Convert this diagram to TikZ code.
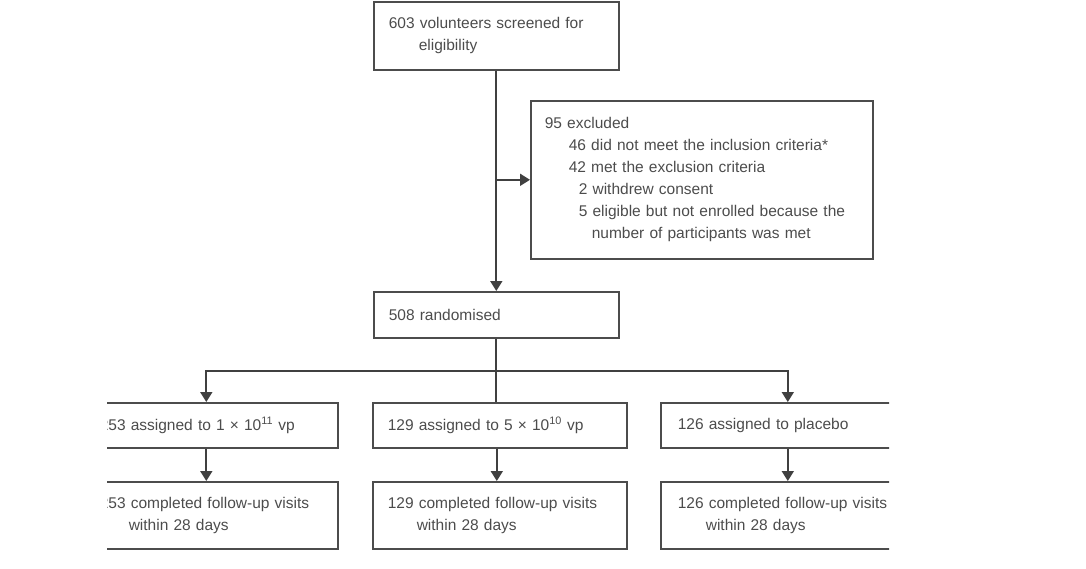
\documentclass[tikz,border=0pt]{standalone}
\usepackage{fontspec}
\setmainfont{Liberation Sans}
\usetikzlibrary{arrows.meta, positioning, calc}

\begin{document}
\begin{tikzpicture}[
    x=1pt, y=-1pt,
    box/.style={rectangle, draw=black!70, line width=1.6pt, anchor=north west,
        align=left, inner xsep=15pt, inner ysep=0pt, text=black!70,
        font=\fontsize{15.5}{22}\selectfont},
    arr/.style={draw=black!75, line width=1.8pt, -{Triangle[length=10pt, width=12pt]}},
    line/.style={draw=black!75, line width=1.8pt}
]
\useasboundingbox (0,0) rectangle (1086,568);
\clip (107,-5) rectangle (889,568);

% screening
\node[box, text width=215pt, minimum height=68pt] at (373,1) (screen)
    {603 volunteers screened for\\\hspace*{30pt}eligibility};
\node[box, inner xsep=14pt, text width=314pt, minimum height=158pt] at (530,100) (excl)
    {95 excluded\\
     \hspace*{24pt}46 did not meet the inclusion criteria*\\
     \hspace*{24pt}42 met the exclusion criteria\\
     \hspace*{34pt}2 withdrew consent\\
     \hspace*{34pt}5 eligible but not enrolled because the\\
     \hspace*{47pt}number of participants was met};
\node[box, text width=215pt, minimum height=46pt] at (373,291) (rand) {508 randomised};

% groups
\node[box, text width=223pt, minimum height=45pt] at (84,402) (highA)
    {253 assigned to 1 × 10\textsuperscript{11} vp};
\node[box, text width=224pt, minimum height=45pt] at (372,402) (lowA)
    {129 assigned to 5 × 10\textsuperscript{10} vp};
\node[box, inner xsep=17pt, text width=220pt, minimum height=45pt] at (660,402) (plcA)
    {126 assigned to placebo};

\node[box, text width=223pt, minimum height=67pt] at (84,481) (highB)
    {253 completed follow-up visits\\\hspace*{29pt}within 28 days};
\node[box, text width=224pt, minimum height=67pt] at (372,481) (lowB)
    {129 completed follow-up visits\\\hspace*{29pt}within 28 days};
\node[box, inner xsep=17pt, text width=220pt, minimum height=67pt] at (660,481) (plcB)
    {126 completed follow-up visits\\\hspace*{28pt}within 28 days};

% connectors
\draw[arr] (screen.south) -- (screen.south |- rand.north);
\draw[arr] (screen.south |- excl.west) -- (excl.west);

\coordinate (fork) at ([yshift=-32pt]rand.south);
\draw[line] (rand.south) -- (rand.south |- lowA.north);
\draw[arr] (fork) -| ([xshift=-5pt]highA.north);
\draw[arr] (fork) -| (plcA.north);

\draw[arr] (highA.south) ++(-5,0) -- ([xshift=-5pt]highB.north);
\draw[arr] (lowA.south) ++(-3,0) -- ([xshift=-3pt]lowB.north);
\draw[arr] (plcA.south) -- (plcB.north);
\end{tikzpicture}
\end{document}
